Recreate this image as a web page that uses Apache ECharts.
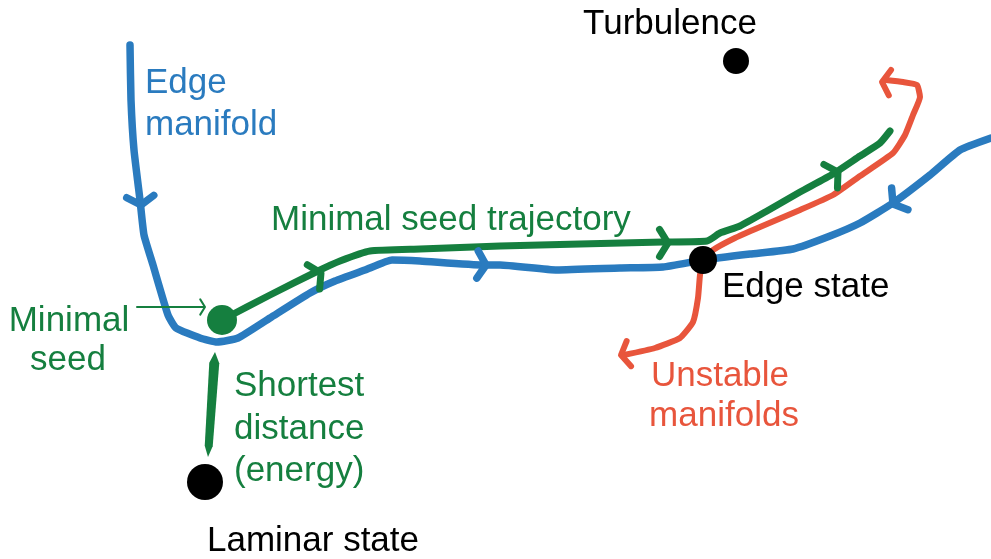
<!DOCTYPE html>
<html>
<head>
<meta charset="utf-8">
<script src="https://cdn.jsdelivr.net/npm/echarts@6/dist/echarts.min.js"></script>
<style>
  html, body { margin: 0; padding: 0; background: #fff; }
  #main { width: 991px; height: 559px; }
</style>
</head>
<body>
<div id="main"></div>
<script>
// colours
var BLUE = '#2a7bbf';
var GREEN = '#157f3f';
var RED = '#e8553c';
var FONT = 'Liberation Sans, Arial, sans-serif';

// edge manifold (blue), drawn in picture coordinates (y down)
var edgeManifold = [
  [130, 45], [131, 100], [134, 150], [140, 200], [144, 235], [153, 265],
  [168, 315], [176, 328], [200, 338], [217, 342], [238, 338], [270, 318],
  [310, 293], [335, 281], [365, 270], [392, 260], [420, 261], [483, 265],
  [500, 265], [557, 270], [620, 268], [663, 267], [703, 260], [750, 254],
  [793, 249], [830, 236], [860, 223], [893, 203], [930, 175], [960, 150],
  [991, 138]
];

// minimal seed trajectory (green)
var seedTrajectory = [
  [222, 320], [270, 295], [318, 271], [340, 261], [370, 251], [420, 249],
  [500, 246], [580, 244], [663, 242], [707, 241], [720, 233], [740, 226],
  [767, 211], [800, 192], [833, 174], [860, 156], [880, 143], [890, 131]
];

// unstable manifolds (red)
var unstableUp = [
  [703, 260], [713, 250], [735, 238], [760, 227], [800, 210], [833, 195],
  [860, 176], [893, 153], [905, 135], [913, 115], [920, 97], [917, 85],
  [903, 82], [886, 80]
];
var unstableDown = [
  [703, 260], [700, 275], [698, 298], [693, 322], [680, 338], [655, 348],
  [624, 355]
];

// pointer to the minimal seed and the shortest distance bar
var seedPointer = [[137, 307], [204, 307]];
var shortestDistance = [[215, 352], [208, 457]];

// states
var stateNames = ['Turbulence', 'Edge state', 'Laminar state', 'Minimal seed'];
var statePoints = [[736, 61], [703, 260], [205, 482], [222, 320]];
var stateSizes = [26, 28, 36, 30];
var stateColors = ['#000', '#000', '#000', GREEN];

// arrowheads: tip [x, y], direction (deg, clockwise on screen), colour, arm length, stroke
var arrowTips = [[141, 205], [486, 265], [893, 204], [321, 273], [668, 243], [838, 172], [882, 82], [621, 355], [205, 307]];
var arrowDirs = [85, 3, 143, -27, 0, -30, 185, 170, 0];
var arrowColors = [BLUE, BLUE, BLUE, GREEN, GREEN, GREEN, RED, RED, GREEN];
var arrowArms = [16, 16, 16, 16, 16, 16, 15, 15, 9];
var arrowWidths = [7.5, 7.5, 7.5, 7, 7, 7, 6, 6, 2];

// text labels
var labelTexts = ['Turbulence', 'Edge', 'manifold', 'Minimal seed trajectory', 'Minimal', 'seed',
  'Shortest', 'distance', '(energy)', 'Laminar state', 'Edge state', 'Unstable', 'manifolds'];
var labelPoints = [[670, 24], [145, 83], [145, 125], [271, 220], [69, 321], [68, 360],
  [234, 386], [234, 429], [234, 471], [313, 541], [722, 287], [720, 376], [724, 416]];
var labelAligns = ['center', 'left', 'left', 'left', 'center', 'center',
  'left', 'left', 'left', 'center', 'left', 'center', 'center'];
var labelColors = ['#000', BLUE, BLUE, GREEN, GREEN, GREEN,
  GREEN, GREEN, GREEN, '#000', '#000', RED, RED];

function pathSeries(data, color, width, z, smooth) {
  return {
    type: 'line',
    data: data,
    symbol: 'none',
    smooth: smooth === undefined ? 0.15 : smooth,
    z: z,
    silent: true,
    animation: false,
    lineStyle: { color: color, width: width, cap: 'round', join: 'round' }
  };
}

// one chevron per arrow, built from its tip and direction
var arrowSeries = arrowTips.map(function (tip, i) {
  var a = arrowDirs[i] * Math.PI / 180;
  var s = 58 * Math.PI / 180;
  var L = arrowArms[i];
  var arm1 = [tip[0] - L * Math.cos(a - s), tip[1] - L * Math.sin(a - s)];
  var arm2 = [tip[0] - L * Math.cos(a + s), tip[1] - L * Math.sin(a + s)];
  return pathSeries([arm1, tip, arm2], arrowColors[i], arrowWidths[i], 7, false);
});

var series = [
  pathSeries(edgeManifold, BLUE, 7.5, 2),
  pathSeries(unstableUp, RED, 6, 3),
  pathSeries(unstableDown, RED, 6, 3),
  pathSeries(seedTrajectory, GREEN, 7, 4),
  pathSeries(seedPointer, GREEN, 2, 4),
  {
    // shortest distance bar with pointed ends
    type: 'custom',
    z: 4,
    silent: true,
    data: [shortestDistance[0].concat(shortestDistance[1])],
    renderItem: function (params, api) {
      var p0 = api.coord([api.value(0), api.value(1)]);
      var p1 = api.coord([api.value(2), api.value(3)]);
      var dx = p1[0] - p0[0], dy = p1[1] - p0[1];
      var len = Math.sqrt(dx * dx + dy * dy);
      var ux = dx / len, uy = dy / len, nx = -uy, ny = ux;
      var hw = 5, tip = 11;
      var pts = [
        p0,
        [p0[0] + ux * tip + nx * hw, p0[1] + uy * tip + ny * hw],
        [p1[0] - ux * tip + nx * hw * 0.8, p1[1] - uy * tip + ny * hw * 0.8],
        p1,
        [p1[0] - ux * tip - nx * hw * 0.8, p1[1] - uy * tip - ny * hw * 0.8],
        [p0[0] + ux * tip - nx * hw, p0[1] + uy * tip - ny * hw]
      ];
      return { type: 'polygon', shape: { points: pts }, style: { fill: GREEN } };
    }
  },
  {
    type: 'scatter',
    z: 6,
    silent: true,
    itemStyle: { opacity: 1 },
    data: statePoints.map(function (p, i) {
      return { name: stateNames[i], value: p, symbolSize: stateSizes[i], itemStyle: { color: stateColors[i], opacity: 1 } };
    })
  },
  {
    type: 'scatter',
    z: 8,
    silent: true,
    symbolSize: 0,
    itemStyle: { opacity: 1 },
    data: labelPoints.map(function (p, i) {
      return {
        name: labelTexts[i],
        value: p,
        label: {
          show: true,
          position: 'inside',
          formatter: '{b}',
          align: labelAligns[i],
          verticalAlign: 'middle',
          color: labelColors[i],
          opacity: 1,
          fontSize: 35,
          fontFamily: FONT
        }
      };
    })
  }
].concat(arrowSeries);

var chart = echarts.init(document.getElementById('main'));
chart.setOption({
  backgroundColor: '#ffffff',
  animation: false,
  grid: { left: 0, right: 0, top: 0, bottom: 0 },
  xAxis: { type: 'value', min: 0, max: 991, show: false },
  yAxis: { type: 'value', min: 0, max: 559, inverse: true, show: false },
  series: series
});
</script>
</body>
</html>
